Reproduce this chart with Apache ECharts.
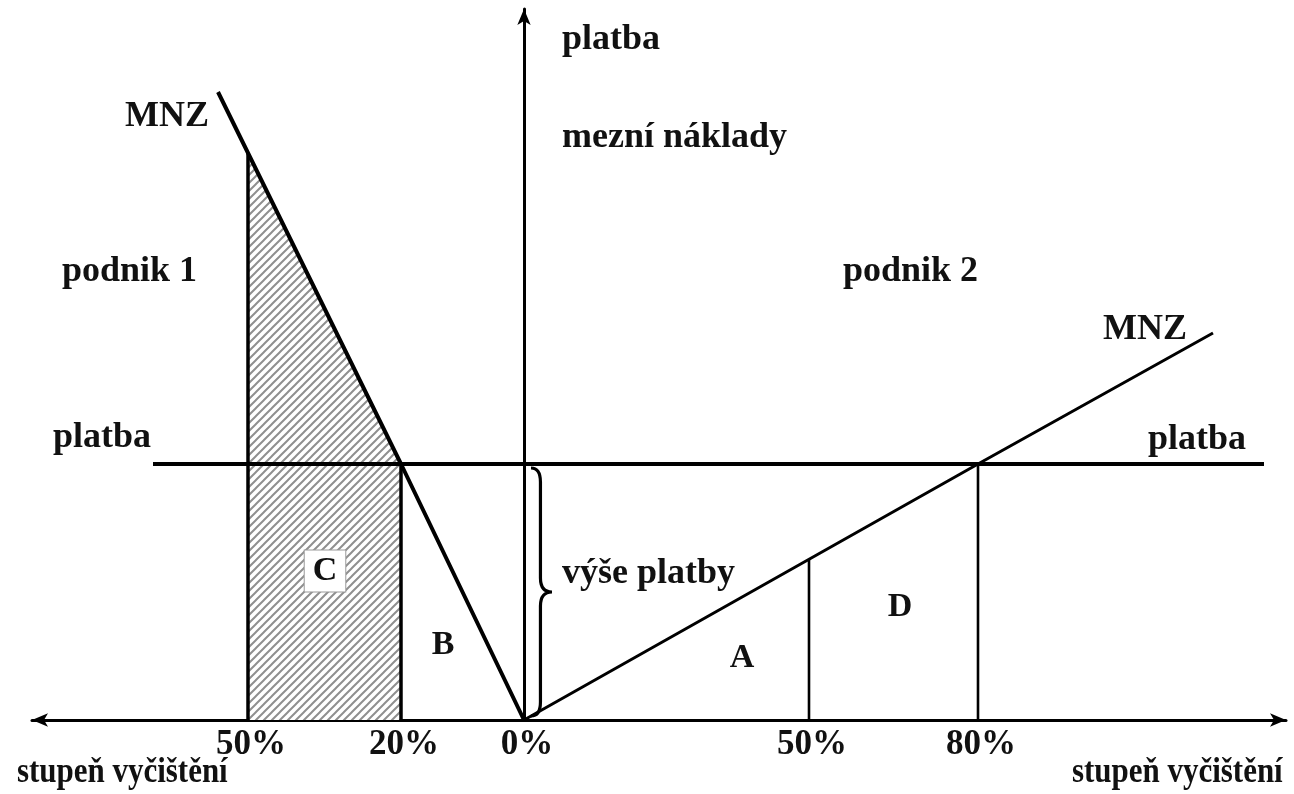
<!DOCTYPE html>
<html>
<head>
<meta charset="utf-8">
<script src="https://cdn.jsdelivr.net/npm/echarts@6/dist/echarts.min.js"></script>
<style>
  html, body { margin: 0; padding: 0; background: #fff; }
  #main { width: 1294px; height: 794px; }
</style>
</head>
<body>
<div id="main"></div>
<script>
// diagram units: x = degree of cleaning (left = podnik 1, right = podnik 2), y = platba / mezni naklady
const tickPos = [-276, -123, 0, 285, 454];
const tickLabels = ['50%', '20%', '0%', '50%', '80%'];

const mnz1 = [[-306, 628], [-123, 256], [0, 0]];
const mnz2 = [[0, 0], [454, 256], [689, 387]];
const platbaLevel = 256;
const platbaRange = [-371, 740];

const hatch = [[-276, 567], [-123, 256]];
const drops = [[-276, 567, 3.5], [-123, 256, 3.5], [285, 161, 2.6], [454, 256, 2.6]];
const brace = [[7, 4, 252]];

const FONT = '"Liberation Serif", "DejaVu Serif", serif';

// hatch pattern for area C
const pat = document.createElement('canvas');
pat.width = 8; pat.height = 8;
const pc = pat.getContext('2d');
pc.fillStyle = '#fff';
pc.fillRect(0, 0, 8, 8);
pc.strokeStyle = '#8f8f8f';
pc.lineWidth = 2;
pc.beginPath();
pc.moveTo(-1, 9); pc.lineTo(9, -1);
pc.moveTo(-1, 1); pc.lineTo(1, -1);
pc.moveTo(7, 9); pc.lineTo(9, 7);
pc.stroke();

const myChart = echarts.init(document.getElementById('main'));

const lineSeries = (data, width) => ({
  type: 'line',
  data: data,
  symbol: 'none',
  silent: true,
  z: 5,
  lineStyle: { color: '#000', width: width }
});

const txt = (text, x, y, size, extra) => ({
  type: 'text',
  x: x,
  y: y,
  z: 20,
  scaleX: (extra && extra.scaleX) || 1,
  style: Object.assign({
    text: text,
    fill: '#111',
    font: 'bold ' + (size || 36) + 'px ' + FONT,
    verticalAlign: 'middle'
  }, (extra && extra.style) || {})
});

const series = [];

series.push({
  type: 'line',
  data: hatch,
  symbol: 'none',
  silent: true,
  z: 2,
  lineStyle: { width: 0 },
  areaStyle: { color: { image: pat, repeat: 'repeat' }, opacity: 1 }
});

series.push(lineSeries(mnz1, 4));
series.push(lineSeries(mnz2, 3));
series.push(lineSeries([[platbaRange[0], platbaLevel], [platbaRange[1], platbaLevel]], 4));

drops.forEach(d => {
  series.push(lineSeries([[d[0], 0], [d[0], d[1]]], d[2]));
});

series.push({
  type: 'custom',
  data: brace,
  silent: true,
  z: 6,
  renderItem: function (params, api) {
    const top = api.coord([api.value(0), api.value(2)]);
    const bot = api.coord([api.value(0), api.value(1)]);
    const x = top[0], y0 = top[1], y1 = bot[1];
    const mid = (y0 + y1) / 2;
    const w = 21;
    const d = [
      'M', x, y0,
      'Q', x + w * 0.45, y0, x + w * 0.45, y0 + 14,
      'L', x + w * 0.45, mid - 14,
      'Q', x + w * 0.45, mid, x + w, mid,
      'Q', x + w * 0.45, mid, x + w * 0.45, mid + 14,
      'L', x + w * 0.45, y1 - 14,
      'Q', x + w * 0.45, y1, x, y1
    ].join(' ');
    return {
      type: 'path',
      shape: { pathData: d },
      style: { stroke: '#000', lineWidth: 3.2, fill: null }
    };
  }
});

const centered = { align: 'center' };

const option = {
  backgroundColor: '#fff',
  animation: false,
  grid: { left: 32, right: 8, top: 9, bottom: 74, containLabel: false },
  xAxis: {
    type: 'value',
    min: -492,
    max: 762,
    splitLine: { show: false },
    axisTick: { show: false },
    axisLine: {
      onZero: true,
      symbol: ['arrow', 'arrow'],
      symbolSize: [10, 16],
      lineStyle: { color: '#000', width: 3 }
    },
    axisLabel: {
      customValues: tickPos,
      formatter: v => tickLabels[tickPos.indexOf(v)],
      color: '#111',
      fontFamily: FONT,
      fontWeight: 'bold',
      fontSize: 35,
      margin: 7,
      padding: [0, 0, 0, 6]
    }
  },
  yAxis: {
    type: 'value',
    min: 0,
    max: 711,
    splitLine: { show: false },
    axisTick: { show: false },
    axisLabel: { show: false },
    axisLine: {
      onZero: true,
      symbol: ['none', 'arrow'],
      symbolSize: [10, 16],
      lineStyle: { color: '#000', width: 3 }
    }
  },
  graphic: [
    txt('platba', 562, 40),
    txt('mezní náklady', 562, 138),
    txt('MNZ', 125, 117),
    txt('podnik 1', 62, 272),
    txt('platba', 53, 438),
    txt('podnik 2', 843, 272),
    txt('MNZ', 1103, 330),
    txt('platba', 1148, 440),
    txt('výše platby', 562, 574),
    txt('stupeň vyčištění', 17, 773, 36, { scaleX: 0.86 }),
    txt('stupeň vyčištění', 1072, 773, 36, { scaleX: 0.86 }),
    txt('A', 742, 658, 34, { style: centered }),
    txt('B', 443, 645, 34, { style: centered }),
    txt('D', 900, 607, 34, { style: centered }),
    txt('C', 325, 571, 34, { style: {
      align: 'center', backgroundColor: '#fff', borderColor: '#999', borderWidth: 1, padding: [4, 8, 3, 8]
    } })
  ],
  series: series
};

myChart.setOption(option);
</script>
</body>
</html>
